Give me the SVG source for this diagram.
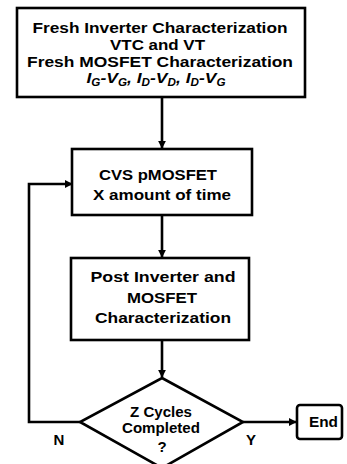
<svg xmlns="http://www.w3.org/2000/svg" width="347" height="464" viewBox="0 0 347 464">
  <style>
    .box { fill: #fff; stroke: #000; stroke-width: 2.6; }
    .lbl { font-family: "Liberation Sans", Arial, sans-serif; font-weight: bold; font-size: 15px; fill: #000; text-anchor: middle; }
    .it { font-style: italic; }
    .sub { font-size: 10px; }
    .wire { fill: none; stroke: #000; stroke-width: 2.6; }
  </style>
  <defs>
    <marker id="arrow" viewBox="0 0 10 10" refX="9" refY="5" markerWidth="3" markerHeight="3" orient="auto" markerUnits="strokeWidth">
      <path d="M0,0 L10,5 L0,10 Z" fill="#000"/>
    </marker>
  </defs>
  <rect width="347" height="464" fill="#fff"/>

  <g id="connectors">
    <line class="wire" x1="162" y1="97" x2="162" y2="148" marker-end="url(#arrow)"/>
    <line class="wire" x1="162" y1="215" x2="162" y2="257" marker-end="url(#arrow)"/>
    <line class="wire" x1="162" y1="340" x2="162" y2="377" marker-end="url(#arrow)"/>
    <polyline class="wire" points="80,422 29,422 29,184 72,184" marker-end="url(#arrow)"/>
    <line class="wire" x1="243" y1="422" x2="296" y2="422" marker-end="url(#arrow)"/>
  </g>

  <g id="fresh-characterization">
    <rect class="box" x="17" y="8" width="288" height="89"/>
    <text class="lbl" x="160" y="33" textLength="255" lengthAdjust="spacingAndGlyphs">Fresh Inverter Characterization</text>
    <text class="lbl" x="157.5" y="50" textLength="95" lengthAdjust="spacingAndGlyphs">VTC and VT</text>
    <text class="lbl" x="160" y="67" textLength="266" lengthAdjust="spacingAndGlyphs">Fresh MOSFET Characterization</text>
    <text class="lbl it" x="156" y="83" textLength="139" lengthAdjust="spacingAndGlyphs">I<tspan class="sub" dy="3">G</tspan><tspan dy="-3">-V</tspan><tspan class="sub" dy="3">G</tspan><tspan dy="-3">, I</tspan><tspan class="sub" dy="3">D</tspan><tspan dy="-3">-V</tspan><tspan class="sub" dy="3">D</tspan><tspan dy="-3">, I</tspan><tspan class="sub" dy="3">D</tspan><tspan dy="-3">-V</tspan><tspan class="sub" dy="3">G</tspan></text>
  </g>

  <g id="cvs-stress">
    <rect class="box" x="72" y="149" width="180" height="66"/>
    <text class="lbl" x="158" y="180" font-size="16" textLength="118" lengthAdjust="spacingAndGlyphs">CVS pMOSFET</text>
    <text class="lbl" x="162" y="200" font-size="16" textLength="138" lengthAdjust="spacingAndGlyphs">X amount of time</text>
  </g>

  <g id="post-characterization">
    <rect class="box" x="71" y="258" width="178" height="82"/>
    <text class="lbl" x="163" y="282" font-size="16" textLength="145" lengthAdjust="spacingAndGlyphs">Post Inverter and</text>
    <text class="lbl" x="162" y="303" font-size="16" textLength="70" lengthAdjust="spacingAndGlyphs">MOSFET</text>
    <text class="lbl" x="163" y="323" font-size="16" textLength="136" lengthAdjust="spacingAndGlyphs">Characterization</text>
  </g>

  <g id="cycles-decision">
    <polygon class="box" points="162,378 243,422 162,468 80,422"/>
    <text class="lbl" x="161" y="417" font-size="13" textLength="62" lengthAdjust="spacingAndGlyphs">Z Cycles</text>
    <text class="lbl" x="161" y="433" font-size="13" textLength="78" lengthAdjust="spacingAndGlyphs">Completed</text>
    <text class="lbl" x="162" y="452" font-size="13">?</text>
  </g>

  <g id="end">
    <rect class="box" x="297" y="405" width="45" height="34" rx="3"/>
    <text class="lbl" x="323.5" y="427" font-size="15" textLength="29" lengthAdjust="spacingAndGlyphs">End</text>
  </g>

  <g id="branch-labels">
    <text class="lbl" x="59" y="445" font-size="14">N</text>
    <text class="lbl" x="251" y="445" font-size="14">Y</text>
  </g>
</svg>
